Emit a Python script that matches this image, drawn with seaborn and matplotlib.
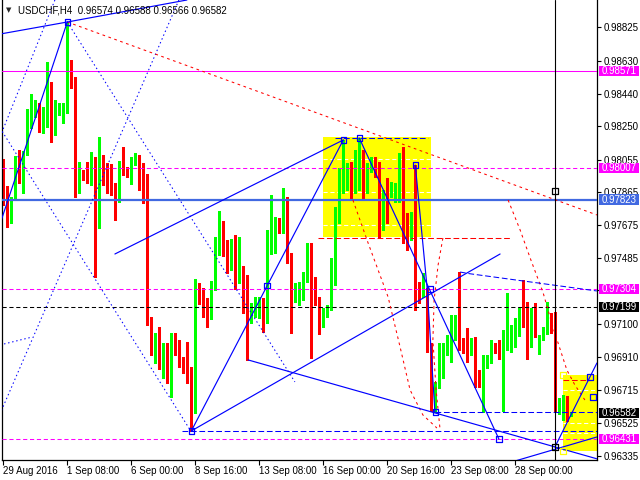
import matplotlib
matplotlib.use("Agg")
import matplotlib.pyplot as plt
from matplotlib.patches import Rectangle
from matplotlib.transforms import blended_transform_factory
import seaborn as sns

# ---------------- data ----------------
title_text = "USDCHF,H4  0.96574 0.96588 0.96566 0.96582"

opens = [0.97943, 0.97879, 0.97809, 0.97833, 0.98059, 0.97961, 0.98100, 0.98292, 0.98333, 0.98356,
         0.98228, 0.98327, 0.98466, 0.98245, 0.98338, 0.98350, 0.98356, 0.98600, 0.98530, 0.97902,
         0.97978, 0.97972, 0.97955, 0.98036, 0.97897, 0.98001, 0.97978, 0.97972, 0.97867, 0.97844,
         0.98030, 0.97995, 0.97978, 0.98036, 0.98036, 0.98013, 0.97885, 0.97123, 0.96931, 0.97007,
         0.96873, 0.96937, 0.96821, 0.97030, 0.96972, 0.96885, 0.96861, 0.96821, 0.96641, 0.97321,
         0.97228, 0.97216, 0.97141, 0.97309, 0.97571, 0.97658, 0.97524, 0.97455, 0.97571, 0.97397,
         0.97408, 0.97263, 0.97152, 0.97187, 0.97187, 0.97210, 0.97152, 0.97542, 0.97559, 0.97699,
         0.97652, 0.97804, 0.97489, 0.97245, 0.97298, 0.97315, 0.97356, 0.97513, 0.97251, 0.97239,
         0.97094, 0.97164, 0.97187, 0.97332, 0.97757, 0.97902, 0.97966, 0.97984, 0.97879, 0.98030,
         0.98071, 0.97978, 0.98001, 0.98042, 0.98013, 0.97705, 0.97897, 0.97879, 0.97873, 0.97879,
         0.98071, 0.97676, 0.97612, 0.97635, 0.97321, 0.97269, 0.97286, 0.96960, 0.96658, 0.96739,
         0.96867, 0.96931, 0.97007, 0.97024, 0.97123, 0.96989, 0.96960, 0.96943, 0.97007, 0.96809,
         0.96803, 0.96867, 0.96908, 0.96978, 0.96972, 0.96966, 0.97018, 0.97065, 0.97036, 0.97094,
         0.97129, 0.97222, 0.96978, 0.97164, 0.96937, 0.97024, 0.97053, 0.97146, 0.97135, 0.96606,
         0.96571, 0.96670, 0.96574]
highs = [0.98059, 0.97902, 0.97838, 0.98077, 0.98112, 0.98106, 0.98350, 0.98437, 0.98402, 0.98385,
         0.98362, 0.98623, 0.98507, 0.98402, 0.98385, 0.98385, 0.98850, 0.98635, 0.98535, 0.98042,
         0.97995, 0.98042, 0.98100, 0.98071, 0.98187, 0.98083, 0.98036, 0.98030, 0.97920, 0.98048,
         0.98129, 0.98013, 0.98071, 0.98094, 0.98083, 0.98036, 0.97972, 0.97141, 0.97048, 0.97082,
         0.96989, 0.96989, 0.97048, 0.97048, 0.97007, 0.96908, 0.96995, 0.96850, 0.97362, 0.97338,
         0.97309, 0.97251, 0.97350, 0.97606, 0.97757, 0.97699, 0.97588, 0.97594, 0.97617, 0.97606,
         0.97437, 0.97385, 0.97222, 0.97257, 0.97257, 0.97251, 0.97646, 0.97850, 0.97722, 0.97716,
         0.97891, 0.97838, 0.97513, 0.97338, 0.97344, 0.97402, 0.97571, 0.97571, 0.97373, 0.97257,
         0.97193, 0.97210, 0.97484, 0.97780, 0.98007, 0.98170, 0.98036, 0.98042, 0.98112, 0.98181,
         0.98112, 0.98036, 0.98071, 0.98071, 0.98042, 0.97879, 0.97949, 0.97926, 0.97920, 0.98094,
         0.98129, 0.97745, 0.97751, 0.98024, 0.97344, 0.97397, 0.97309, 0.96989, 0.96763, 0.96989,
         0.96989, 0.97036, 0.97152, 0.97152, 0.97402, 0.97018, 0.97077, 0.97018, 0.97024, 0.96832,
         0.96920, 0.96920, 0.97007, 0.96989, 0.97007, 0.97065, 0.97280, 0.97094, 0.97135, 0.97193,
         0.97356, 0.97228, 0.97193, 0.97222, 0.97036, 0.97082, 0.97228, 0.97164, 0.97170, 0.96670,
         0.96687, 0.96681, 0.96588]
lows = [0.97792, 0.97664, 0.97687, 0.97821, 0.97920, 0.97862, 0.98083, 0.98240, 0.98304, 0.98216,
        0.98211, 0.98245, 0.98158, 0.98199, 0.98315, 0.98269, 0.98327, 0.98472, 0.97838, 0.97862,
        0.97937, 0.97920, 0.97908, 0.97373, 0.97658, 0.97908, 0.97862, 0.97850, 0.97705, 0.97809,
        0.97966, 0.97955, 0.97914, 0.98024, 0.97879, 0.97804, 0.97094, 0.96920, 0.96873, 0.96838,
        0.96786, 0.96757, 0.96675, 0.96920, 0.96850, 0.96815, 0.96757, 0.96478, 0.96582, 0.97216,
        0.97141, 0.97082, 0.97129, 0.97298, 0.97501, 0.97495, 0.97397, 0.97414, 0.97303, 0.97338,
        0.97164, 0.96891, 0.97106, 0.97141, 0.97135, 0.97053, 0.97106, 0.97507, 0.97513, 0.97629,
        0.97629, 0.97455, 0.97048, 0.97228, 0.97210, 0.97239, 0.97344, 0.96902, 0.97210, 0.97042,
        0.97082, 0.97141, 0.97181, 0.97327, 0.97687, 0.97862, 0.97879, 0.97833, 0.97862, 0.97879,
        0.97821, 0.97862, 0.97984, 0.97955, 0.97606, 0.97646, 0.97687, 0.97838, 0.97809, 0.97809,
        0.97571, 0.97530, 0.97588, 0.97181, 0.97222, 0.97257, 0.96937, 0.96594, 0.96588, 0.96728,
        0.96786, 0.96920, 0.96879, 0.97007, 0.96949, 0.96931, 0.96879, 0.96920, 0.96734, 0.96734,
        0.96588, 0.96844, 0.96873, 0.96931, 0.96896, 0.96594, 0.96949, 0.96937, 0.96966, 0.97030,
        0.97082, 0.96896, 0.96966, 0.97024, 0.96926, 0.97007, 0.97042, 0.97048, 0.96594, 0.96577,
        0.96542, 0.96536, 0.96566]
closes = [0.97821, 0.97833, 0.97833, 0.98059, 0.97961, 0.98100, 0.98292, 0.98379, 0.98362, 0.98234,
          0.98333, 0.98461, 0.98245, 0.98368, 0.98356, 0.98362, 0.98600, 0.98530, 0.97902, 0.97990,
          0.97966, 0.97955, 0.98036, 0.97897, 0.98001, 0.97984, 0.97966, 0.97862, 0.97844, 0.98030,
          0.97990, 0.97972, 0.98048, 0.98048, 0.98013, 0.97885, 0.97129, 0.96937, 0.97007, 0.96873,
          0.96937, 0.96821, 0.97036, 0.96978, 0.96879, 0.96856, 0.96815, 0.96641, 0.97321, 0.97228,
          0.97164, 0.97141, 0.97309, 0.97571, 0.97658, 0.97524, 0.97455, 0.97571, 0.97397, 0.97414,
          0.97257, 0.97187, 0.97187, 0.97216, 0.97210, 0.97141, 0.97542, 0.97664, 0.97699, 0.97646,
          0.97809, 0.97489, 0.97245, 0.97309, 0.97315, 0.97356, 0.97513, 0.97245, 0.97234, 0.97164,
          0.97164, 0.97193, 0.97338, 0.97763, 0.97908, 0.97984, 0.97984, 0.97879, 0.98071, 0.98071,
          0.97984, 0.98013, 0.98054, 0.98007, 0.97699, 0.97838, 0.97879, 0.97908, 0.97885, 0.98071,
          0.97676, 0.97646, 0.97646, 0.97344, 0.97269, 0.97298, 0.96949, 0.96629, 0.96745, 0.96867,
          0.96931, 0.97024, 0.97024, 0.97123, 0.96989, 0.96949, 0.96943, 0.97007, 0.96780, 0.96780,
          0.96873, 0.96908, 0.96978, 0.96955, 0.96949, 0.97024, 0.97077, 0.97077, 0.97123, 0.97129,
          0.97117, 0.96978, 0.97164, 0.97088, 0.97024, 0.97059, 0.97146, 0.97065, 0.96611, 0.96658,
          0.96675, 0.96576, 0.96582]

date_tick_bars = [0, 16, 32, 48, 64, 80, 96, 112, 128]
date_tick_labels = ["29 Aug 2016", "1 Sep 08:00", "6 Sep 00:00", "8 Sep 16:00", "13 Sep 08:00",
                    "16 Sep 00:00", "20 Sep 16:00", "23 Sep 08:00", "28 Sep 00:00"]
price_ticks = [0.98825, 0.98630, 0.98440, 0.98250, 0.98055, 0.97865, 0.97675, 0.97485,
               0.97295, 0.97100, 0.96910, 0.96715, 0.96525, 0.96335]
# the 0.97295 step sits fully under the 0.97304 tag, so its text is left blank
price_tick_labels = ["0.98825", "0.98630", "0.98440", "0.98250", "0.98055", "0.97865", "0.97675",
                     "0.97485", "", "0.97100", "0.96910", "0.96715", "0.96525", "0.96335"]

# horizontal levels: price, colour, line style, width
level_prices = [0.98571, 0.98007, 0.97823, 0.97304, 0.97199, 0.96431]
level_colors = ["#FF00FF", "#FF00FF", "#4169E1", "#FF00FF", "#000000", "#FF00FF"]
level_styles = ["solid", "dash", "solid", "dash", "dash", "dash"]
level_widths = [0.75, 0.75, 1.6, 0.75, 0.75, 0.75]

# price boxes on the right scale
tag_prices = [0.98571, 0.98007, 0.97823, 0.97304, 0.97199, 0.96582, 0.96431]
tag_colors = ["#FF00FF", "#FF00FF", "#4169E1", "#FF00FF", "#000000", "#000000", "#FF00FF"]

# drawn objects, anchor points as (bar, price)
blue_solid_lines = [
    [(-0.83, 0.98786), (16.0, 0.98856)],
    [(16.0, 0.98856), (45.9, 0.98984)],
    [(16.0, 0.98856), (-0.83, 0.97681)],
    [(47.0, 0.96478), (85.0, 0.98170)],
    [(27.9, 0.97507), (85.0, 0.98170)],
    [(89.0, 0.98181), (123.9, 0.96431)],
    [(103.0, 0.98024), (106.0, 0.97298), (107.9, 0.96588)],
    [(61.2, 0.96891), (148.4, 0.96316)],
    [(47.0, 0.96478), (124.2, 0.97507)],
    [(127.9, 0.96303), (148.4, 0.96443)],
    [(137.9, 0.96385), (148.4, 0.96873)],
]
blue_dashed_lines = [
    [(82.9, 0.98181), (106.2, 0.98181)],
    [(44.6, 0.96478), (148.4, 0.96478)],
    [(107.9, 0.96588), (148.4, 0.96588)],
    [(114.2, 0.97402), (116.7, 0.97392), (148.4, 0.97292)],
]
blue_dotted_lines = [
    [(12.9, 0.98984), (-0.83, 0.98187)],
    [(-0.83, 0.98240), (46.7, 0.96484)],
    [(16.0, 0.98856), (72.9, 0.96763)],
    [(43.9, 0.98984), (-0.83, 0.96577)],
    [(-0.83, 0.96978), (7.2, 0.97024)],
]
red_dotted_lines = [
    [(16.0, 0.98856), (148.4, 0.97734)],
    [(87.4, 0.97821), (91.2, 0.97571), (96.2, 0.97257), (99.2, 0.96966), (101.7, 0.96716),
     (104.9, 0.96571), (108.4, 0.96495)],
    [(109.9, 0.97600), (108.7, 0.97443), (107.7, 0.97239), (107.4, 0.97007), (108.2, 0.96716),
     (109.2, 0.96484)],
    [(126.2, 0.97821), (129.2, 0.97647), (131.9, 0.97472), (134.9, 0.97286), (137.4, 0.97082),
     (140.9, 0.96832), (142.9, 0.96745), (145.4, 0.96658)],
]
red_dashed_lines = [
    [(78.7, 0.97600), (127.2, 0.97600)],
    [(139.9, 0.96774), (147.2, 0.96774)],
]
# rectangles: bar from, bar to, price low, price high
yellow_boxes = [(79.8, 106.9, 0.97604, 0.98189), (139.9, 148.5, 0.96363, 0.96803)]
box_inner_levels = [[0.98059, 0.97869, 0.97676], [0.96716, 0.96526, 0.96468]]

blue_marks = [(16.0, 0.98856), (47.0, 0.96478), (85.0, 0.98170), (89.0, 0.98181), (65.9, 0.97325),
              (103.0, 0.98024), (106.7, 0.97304), (108.0, 0.96588), (123.9, 0.96431),
              (146.7, 0.96792), (147.4, 0.96676)]
black_marks = [(137.9, 0.97873), (137.9, 0.96385)]
yellow_marks = [(139.9, 0.96803), (139.9, 0.96363)]
vertical_bar = 137.9

# ---------------- drawing ----------------
sns.set_theme(style="white")
plt.rcParams["font.family"] = ["Liberation Sans", "DejaVu Sans"]

fig = plt.figure(figsize=(6.4, 4.8), dpi=100, facecolor="white")
ax = fig.add_axes([2 / 640, 1 - 459.5 / 480, 595 / 640, 459.5 / 480])
ax.set_facecolor("white")
ax.set_xlim(-0.325, 148.425)
ax.set_ylim(0.96312, 0.98984)

DOT = (0, (1.4, 2.6))
RDOT = (0, (2.6, 3.4))
DASH = (0, (4.0, 2.6))
LDASH = (0, (5.5, 2.6))

# background rectangles
for x0, x1, lo, hi in yellow_boxes:
    ax.add_patch(Rectangle((x0, lo), x1 - x0, hi - lo, facecolor="#FFFF00", edgecolor="none", zorder=0.5))
for (x0, x1, lo, hi), levels in zip(yellow_boxes, box_inner_levels):
    for lv in levels:
        ax.plot([x0, x1], [lv, lv], color="white", lw=0.75, linestyle=DASH, zorder=0.6)

# candles
for i, (o, h, l, c) in enumerate(zip(opens, highs, lows, closes)):
    col = "#00FF00" if c >= o else "#FF0000"
    ax.vlines(i, l, h, color=col, lw=0.75, zorder=2, antialiased=False)
    body = max(abs(c - o), 0.00004)
    ax.bar(i, body, bottom=min(o, c), width=0.78, color=col, linewidth=0, zorder=2.1,
           antialiased=False)

# horizontal levels
for p, col, st, w in zip(level_prices, level_colors, level_styles, level_widths):
    ls = "-" if st == "solid" else DASH
    ax.axhline(p, color=col, lw=w, linestyle=ls, zorder=3)

def draw_lines(lines, color, style, lw=0.75):
    for pts in lines:
        xs = [p[0] for p in pts]
        ys = [p[1] for p in pts]
        ax.plot(xs, ys, color=color, lw=lw, linestyle=style, zorder=3.2)

draw_lines(blue_dotted_lines, "#0000FF", DOT)
draw_lines(red_dotted_lines, "#FF0000", RDOT)
draw_lines(red_dashed_lines, "#FF0000", LDASH)
draw_lines(blue_dashed_lines, "#0000FF", LDASH)
draw_lines(blue_solid_lines, "#0000FF", "-", lw=0.85)

ax.axvline(vertical_bar, color="black", lw=0.8, zorder=3.4)

for marks, col in [(blue_marks, "#0000FF"), (black_marks, "#000000"), (yellow_marks, "#FFFF00")]:
    sns.scatterplot(x=[m[0] for m in marks], y=[m[1] for m in marks], marker="s", s=16,
                    color=col, facecolor="none", edgecolor=col, linewidth=0.9, ax=ax,
                    zorder=4, clip_on=False, legend=False)

# axes frame and scales
for side in ["left", "bottom", "right"]:
    ax.spines[side].set_visible(True)
    ax.spines[side].set_color("black")
    ax.spines[side].set_linewidth(0.9)
ax.spines["top"].set_visible(False)

ax.yaxis.tick_right()
ax.set_yticks(price_ticks)
ax.set_yticklabels(price_tick_labels)
ax.tick_params(axis="y", which="both", right=True, left=False, labelright=True, labelleft=False,
               direction="out", length=3, width=0.8, pad=1.5, labelsize=7, colors="black")
ax.set_xticks(date_tick_bars)
ax.set_xticklabels(date_tick_labels, ha="left")
ax.tick_params(axis="x", bottom=True, direction="out", length=3.5, width=0.8, pad=1.0,
               labelsize=7, colors="black")
ax.grid(False)
ax.set_xlabel("")
ax.set_ylabel("")

# coloured price tags on the right scale
tr = blended_transform_factory(fig.transFigure, ax.transData)
tag_h = 10.5 * 0.00005815
for p, col in zip(tag_prices, tag_colors):
    ax.add_patch(Rectangle((599 / 640, p - tag_h / 2), 40 / 640, tag_h, transform=tr,
                           facecolor=col, edgecolor="none", clip_on=False, zorder=6))
    ax.text(601.5 / 640, p, f"{p:.5f}", transform=tr, color="white", fontsize=7,
            va="center", ha="left", clip_on=False, zorder=7)

# header
fig.text(6 / 640, 1 - 10.5 / 480, "\u25BC", fontsize=5, family="DejaVu Sans", va="center", ha="left")
fig.text(18 / 640, 1 - 10.5 / 480, title_text, fontsize=7, va="center", ha="left", color="black")

fig.savefig("out.png", dpi=100, facecolor="white")
